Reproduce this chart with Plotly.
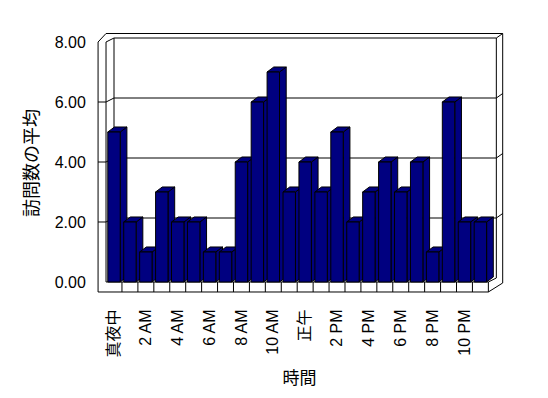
import plotly.graph_objects as go

# ---- data ----
hours = list(range(24))
visits = [5, 2, 1, 3, 2, 2, 1, 1, 4, 6, 7, 3, 4, 3, 5, 2, 3, 4, 3, 4, 1, 6, 2, 2]
label_hours = list(range(0, 24, 2))
hour_labels = ["真夜中", "2 AM", "4 AM", "6 AM", "8 AM", "10 AM",
               "正午", "2 PM", "4 PM", "6 PM", "8 PM", "10 PM"]
y_ticks = [0, 2, 4, 6, 8]
y_tick_text = [f"{v:.2f}" for v in y_ticks]

# ---- styling / pseudo-3D geometry (data units) ----
NAVY = "#000080"
FONT = "Liberation Sans, Arial, Noto Sans CJK JP, sans-serif"
N = len(hours)
YMAX = max(y_ticks)
BAR_W = 0.78
DX, DY = 0.42, 0.167        # bar depth offset
BDX, BDY = 0.5, 0.133       # back wall offset
RDX, RDY = 0.4, 0.15        # wall thickness behind
WALL = 0.5                  # left wall thickness
FLOOR = 1 / 3               # floor thickness
XL, XR = -0.5, N - 0.5

shapes = []


def seg(x0, y0, x1, y1):
    shapes.append(dict(type="line", xref="x", yref="y", x0=x0, y0=y0, x1=x1, y1=y1,
                       line=dict(color="black", width=1), layer="below"))


# gridlines on back wall and marks on side walls
for v in y_ticks[1:-1]:
    seg(XL + BDX, v + BDY, XR + BDX, v + BDY)
    seg(XR + BDX, v + BDY, XR + BDX + RDX, v + BDY + RDY)
    seg(XL - WALL, v, XL, v)
    seg(XL, v, XL + BDX, v + BDY)

# back wall
seg(XL + BDX, YMAX + BDY, XR + BDX, YMAX + BDY)
seg(XL + BDX, BDY, XL + BDX, YMAX + BDY)
seg(XR + BDX, BDY, XR + BDX, YMAX + BDY)
seg(XL, YMAX + BDY + RDY, XR + BDX + RDX, YMAX + BDY + RDY)
seg(XR + BDX + RDX, -FLOOR + 0.3, XR + BDX + RDX, YMAX + BDY + RDY)
seg(XR + BDX, YMAX + BDY, XR + BDX + RDX, YMAX + BDY + RDY)
# left wall
seg(XL - WALL, -FLOOR, XL - WALL, YMAX)
seg(XL, 0, XL, YMAX)
seg(XL - WALL, YMAX, XL, YMAX + BDY + RDY)
seg(XL, YMAX, XL + BDX, YMAX + BDY)
# floor
seg(XL - WALL, -FLOOR, XR, -FLOOR)
seg(XL, 0, XR, 0)
seg(XR, -FLOOR, XR, 0)
seg(XR, 0, XR + BDX, BDY)
seg(XR, -FLOOR, XR + BDX + RDX, -FLOOR + 0.3)
for k in range(N - 1):
    seg(k + 0.5, -FLOOR, k + 0.5, 0)

# bar tops and sides
for h, v in zip(hours, visits):
    x0, x1 = h - BAR_W / 2, h + BAR_W / 2
    side = f"M {x1},0 L {x1 + DX},{DY} L {x1 + DX},{v + DY} L {x1},{v} Z"
    top = f"M {x0},{v} L {x0 + DX},{v + DY} L {x1 + DX},{v + DY} L {x1},{v} Z"
    for p in (side, top):
        shapes.append(dict(type="path", xref="x", yref="y", path=p, fillcolor=NAVY,
                           line=dict(color="black", width=1), layer="below"))

fig = go.Figure(go.Bar(
    x=hours, y=visits, width=BAR_W,
    marker=dict(color=NAVY, line=dict(color="black", width=1)),
    hoverinfo="x+y",
))

fig.update_layout(
    width=540, height=390,
    margin=dict(l=84, r=41, t=22, b=102),
    paper_bgcolor="white", plot_bgcolor="white",
    font=dict(family=FONT, size=16, color="black"),
    showlegend=False,
    shapes=shapes,
    xaxis=dict(
        range=[-1.381, 24.67], showgrid=False, zeroline=False, showline=False,
        tickmode="array", tickvals=label_hours, ticktext=hour_labels,
        tickangle=-90, ticks="outside", ticklen=6, tickcolor="rgba(0,0,0,0)",
        tickfont=dict(size=16),
        title=dict(text="時間", font=dict(size=17), standoff=15),
    ),
    yaxis=dict(
        range=[-0.467, 8.4], showgrid=False, zeroline=False, showline=False,
        tickmode="array", tickvals=y_ticks, ticktext=y_tick_text,
        ticks="outside", ticklen=2, tickcolor="rgba(0,0,0,0)",
        tickfont=dict(size=16),
        title=dict(text="訪問数の平均", font=dict(size=18), standoff=11),
    ),
)

fig.write_html("out.html")
